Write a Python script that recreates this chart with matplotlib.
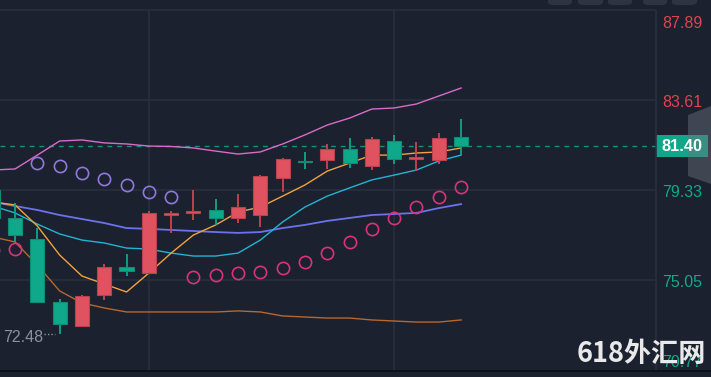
import matplotlib
matplotlib.use("Agg")
import matplotlib.pyplot as plt
from matplotlib.patches import Polygon, FancyBboxPatch, Rectangle
from matplotlib.lines import Line2D
import numpy as np

# ---------------- data ----------------
opens  = [79.33, 78.00, 77.00, 74.00, 72.86, 74.34, 75.67, 75.38, 78.14, 78.26, 78.38,
          78.00, 78.14, 79.90, 80.71, 80.76, 81.28, 80.47, 81.66, 80.82, 80.76, 81.85]
highs  = [79.45, 78.71, 77.52, 74.15, 74.35, 75.81, 76.29, 78.33, 78.33, 79.33, 78.90,
          79.14, 80.04, 80.85, 81.14, 81.52, 81.80, 81.85, 81.95, 81.61, 82.04, 82.71]
lows   = [77.90, 76.86, 73.95, 72.48, 72.82, 74.10, 75.24, 75.38, 77.29, 77.90, 77.66,
          77.76, 77.57, 79.23, 80.33, 80.33, 80.38, 80.28, 80.57, 80.23, 80.57, 80.99]
closes = [78.00, 77.19, 74.00, 72.96, 74.30, 75.67, 75.48, 78.24, 78.24, 78.30, 78.00,
          78.52, 80.00, 80.80, 80.66, 81.28, 80.61, 81.76, 80.80, 80.88, 81.80, 81.40]

boll_upper = [80.28, 80.33, 80.99, 81.66, 81.71, 81.57, 81.52, 81.42, 81.40, 81.33, 81.18,
              81.04, 81.14, 81.52, 81.95, 82.42, 82.75, 83.18, 83.23, 83.42, 83.80, 84.18]
boll_mid   = [78.76, 78.57, 78.38, 78.14, 77.95, 77.76, 77.52, 77.48, 77.43, 77.38, 77.33,
              77.29, 77.33, 77.52, 77.67, 77.86, 78.00, 78.14, 78.19, 78.24, 78.47, 78.66]
boll_lower = [77.10, 76.86, 75.76, 74.53, 73.96, 73.72, 73.53, 73.53, 73.53, 73.53, 73.53,
              73.58, 73.53, 73.34, 73.29, 73.24, 73.24, 73.15, 73.10, 73.05, 73.05, 73.15]
ma_fast    = [78.76, 78.62, 77.62, 76.24, 75.24, 74.86, 74.48, 75.38, 76.33, 77.19, 77.67,
              78.28, 78.52, 79.04, 79.57, 80.23, 80.61, 80.99, 80.99, 81.09, 81.14, 81.33]
ma_slow    = [78.57, 78.24, 77.71, 77.24, 76.95, 76.81, 76.57, 76.52, 76.33, 76.19, 76.19,
              76.33, 76.95, 77.81, 78.52, 79.04, 79.43, 79.81, 80.04, 80.28, 80.71, 80.99]

sar_above_idx = [2, 3, 4, 5, 6, 7, 8]
sar_above     = [80.61, 80.47, 80.14, 79.85, 79.57, 79.23, 79.00]
sar_below_idx = [0, 1, 9, 10, 11, 12, 13, 14, 15, 16, 17, 18, 19, 20, 21]
sar_below     = [76.48, 76.52, 75.19, 75.29, 75.38, 75.43, 75.62, 75.91, 76.33, 76.86,
                 77.48, 78.00, 78.52, 79.00, 79.47]

axis_ticks = [87.89, 83.61, 79.33, 75.05, 70.77]
last_price = 81.40
vgrid_idx = [7, 18]
watermark = "618外汇网"

# ---------------- style ----------------
BG = "#1b212e"
GRID = "#283040"
UP = "#e0525f"
UP_EDGE = "#b9424e"
DN = "#0fa88b"
DN_EDGE = "#0c8d74"
W, H = 711, 377

fig = plt.figure(figsize=(W / 100, H / 100), dpi=100, facecolor=BG)
ax = fig.add_axes([0, 0, 656 / W, 1])
ax.set_facecolor(BG)
for s in ax.spines.values():
    s.set_visible(False)
ax.set_xticks([])
ax.set_yticks([])

# pixel <-> data mapping (y)
y_top_val = 88.366
y_bot_val = 70.437
ax.set_ylim(y_bot_val, y_top_val)
ax.set_xlim(0.327, 29.74)

def py2v(py):
    return y_top_val - (y_top_val - y_bot_val) * py / H

# grid
for t in axis_ticks[:4]:
    ax.axhline(t, color=GRID, lw=1.2, zorder=0)
for vi in vgrid_idx:
    ax.plot([vi, vi], [axis_ticks[4], axis_ticks[0]], color=GRID, lw=1.2, zorder=0)

n = len(opens)
x = np.arange(n)

# bollinger & MAs
ax.plot(x, boll_upper, color="#d86cc8", lw=1.0, zorder=2)
ax.plot(x, boll_lower, color="#b8672f", lw=1.0, zorder=2)
ax.plot(x, boll_mid, color="#6b72ec", lw=1.3, zorder=2)
ax.plot(x, ma_slow, color="#22b4d4", lw=1.0, zorder=2)
ax.plot(x, ma_fast, color="#f4a23c", lw=1.0, zorder=2)

# candles
bw = 0.63
for i in range(n):
    o, h, l, c = opens[i], highs[i], lows[i], closes[i]
    up = c >= o
    fc = UP if up else DN
    ec = UP_EDGE if up else DN_EDGE
    wick = "#c9454f" if up else "#10a58a"
    ax.plot([i, i], [l, h], color=wick, lw=1.3, zorder=3, solid_capstyle="butt")
    bot = min(o, c)
    ht = max(abs(c - o), 0.07)
    ax.add_patch(Rectangle((i - bw / 2, bot), bw, ht, facecolor=fc, edgecolor=ec,
                           lw=0.8, zorder=4))

# SAR
ax.plot(sar_above_idx, sar_above, ls="none", marker="o", ms=8.8, mfc="none",
        mec="#9078dc", mew=1.2, zorder=5)
ax.plot(sar_below_idx, sar_below, ls="none", marker="o", ms=8.8, mfc="none",
        mec="#d8337c", mew=1.2, zorder=5)

# last price dashed line
ax.axhline(last_price, color="#14907b", lw=1.0, ls=(0, (3.5, 3.5)), zorder=1)

# low label
imin = int(np.argmin(lows))
lmin = lows[imin]
ax.plot([imin - 0.68, imin - 0.22], [lmin, lmin], color="#8c919b", lw=1.0,
        ls=(0, (1, 1.5)), zorder=6)
ax.text(imin - 0.73, lmin - 0.17, f"{lmin:.2f}", color="#8c919b", fontsize=11.5,
        family="Liberation Sans", ha="right", va="center", zorder=6)

# frame lines (figure pixels)
def fx(px):
    return px / W
def fy(py):
    return 1 - py / H

fig.add_artist(Line2D([fx(656), fx(656)], [fy(11), fy(370)], color=GRID, lw=1.2))
fig.add_artist(Line2D([0, 1], [fy(370.5), fy(370.5)], color="#0c1016", lw=1.3))

# axis labels
lab_top = py2v(21)
lab_bot = py2v(360)
for t in axis_ticks:
    v = min(max(t, lab_bot), lab_top)
    col = "#e0434f" if t > last_price else "#12a88a"
    ypx = (y_top_val - v) / (y_top_val - y_bot_val) * H + 2.5
    fig.text(fx(662), fy(ypx), f"{t:.2f}", color=col, fontsize=11.5,
             family="Liberation Sans", ha="left", va="center")

# last price box
lp_px = (y_top_val - last_price) / (y_top_val - y_bot_val) * H
fig.add_artist(Rectangle((fx(656), fy(lp_px + 11)), fx(52), 22 / H,
                         facecolor="#0fa68a", edgecolor="none"))
fig.text(fx(662), fy(lp_px + 0.5), f"{last_price:.2f}", color="white", fontsize=11.8,
         family="Liberation Sans", weight="bold", ha="left", va="center")

# gray side tab
tab = Polygon([(fx(688), fy(115)), (fx(711), fy(106)), (fx(711), fy(184)), (fx(688), fy(176))],
              closed=True, facecolor="#6b717c", edgecolor="none", alpha=0.45,
              transform=fig.transFigure)
fig.add_artist(tab)

# top buttons
for x0, x1 in [(548, 572), (578, 603), (608, 632), (643, 667), (672, 697)]:
    fig.add_artist(FancyBboxPatch((fx(x0), fy(5)), fx(x1 - x0), 10 / H,
                                  boxstyle="round,pad=0,rounding_size=0.008",
                                  facecolor="#2d3543", edgecolor="none",
                                  transform=fig.transFigure))

# watermark
fig.text(fx(577), fy(354), watermark, color="#e9e9e9", fontsize=19.5, weight="bold",
         family=["Noto Sans CJK SC", "DejaVu Sans"], ha="left", va="center")

fig.savefig("out.png", dpi=100, facecolor=BG)
